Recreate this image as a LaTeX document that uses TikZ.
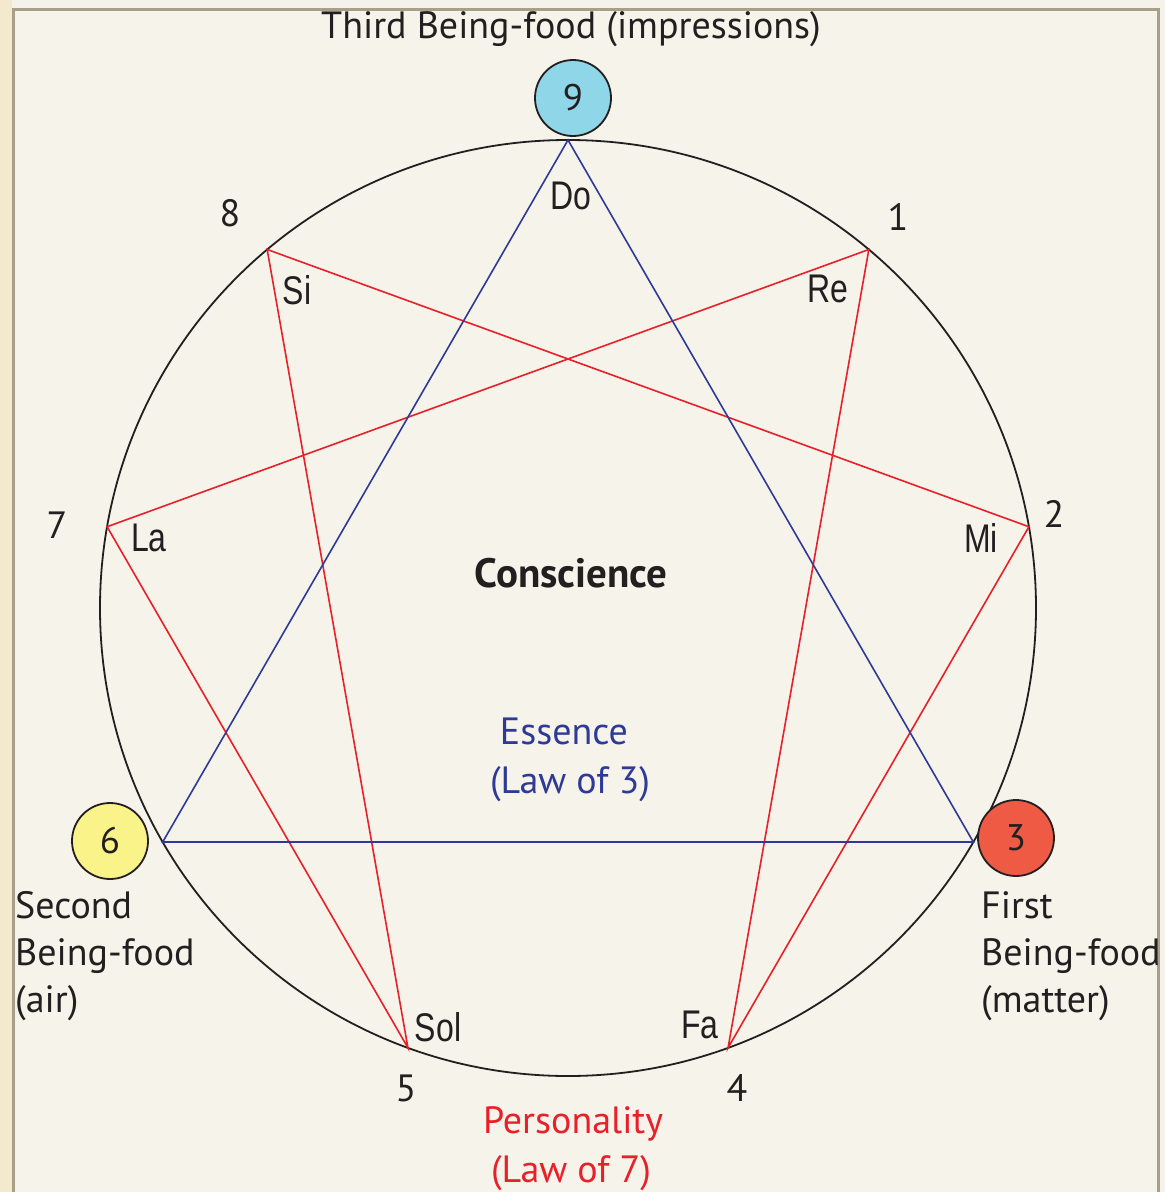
\documentclass[tikz,border=0pt]{standalone}
\usepackage{fontspec}
\usetikzlibrary{calc}
\setmainfont{PT Sans}
\newfontfamily\condfont[FakeStretch=0.80]{Liberation Sans}
\definecolor{pagebg}{HTML}{F4F2EA}
\definecolor{stripbg}{HTML}{F3E9CD}
\definecolor{panelbg}{HTML}{F5F3EA}
\definecolor{panelframe}{HTML}{A89F88}
\definecolor{essblue}{HTML}{2E3A96}
\definecolor{persred}{HTML}{E8202A}
\definecolor{cblue}{HTML}{8FD6E8}
\definecolor{cyellow}{HTML}{FAF38A}
\definecolor{cred}{HTML}{EF5A45}
\definecolor{ink}{HTML}{231F20}
\tikzset{
  numcirc/.style={circle, draw=ink, line width=1.8pt, minimum size=76pt, inner sep=0pt, font=\fontsize{37}{37}\selectfont, text=ink},
  numlabel/.style={font=\fontsize{38}{38}\selectfont, text=ink},
  notelabel/.style={font=\condfont\fontsize{40}{40}\selectfont, text=ink},
  bigtext/.style={font=\fontsize{38}{38}\selectfont},
  foodtext/.style={font=\fontsize{38}{47}\selectfont, text=ink, align=left, anchor=north west, inner sep=0pt},
  redline/.style={draw=persred, line width=1.6pt},
  blueline/.style={draw=essblue, line width=1.6pt},
}
\begin{document}
\begin{tikzpicture}[x=1pt,y=-1pt]
\useasboundingbox (0,0) rectangle (1165,1192);
\fill[pagebg] (0,0) rectangle (1165,1192);
\fill[stripbg] (0,0) rectangle (12,1192);
\filldraw[fill=panelbg, draw=panelframe, line width=3pt] (13.5,9.5) rectangle (1158,1200);
% circle
\coordinate (c) at (568,608);
\draw[ink, line width=1.8pt] (c) circle[radius=468];
\foreach \i/\a in {9/90,1/50,2/10,3/-30,4/-70,5/-110,6/-150,7/170,8/130}{
  \coordinate (p\i) at ($(c)+({468*cos(\a)},{-468*sin(\a)})$);
}
% red hexad
\draw[redline] (p1) -- (p4) -- (p2) -- (p8) -- (p5) -- (p7) -- cycle;
% blue triangle
\draw[blueline, line join=miter] (p9) -- (p3) -- (p6) -- cycle;
% number circles
\node[numcirc, fill=cblue] (n9) at (573,98) {9};
\node[numcirc, fill=cyellow] (n6) at (110,841) {6};
\node[numcirc, fill=cred] (n3) at (1016,838) {3};
% numbers
\node[numlabel] (l8) at (230,213) {8};
\node[numlabel] (l1) at (898,217) {1};
\node[numlabel] (l2) at (1054,514) {2};
\node[numlabel] (l7) at (57,525) {7};
\node[numlabel] (l5) at (406,1088) {5};
\node[numlabel] (l4) at (737,1088) {4};
% notes
\node[notelabel] (do) at (571,196) {Do};
\node[notelabel] (re) at (828,289) {Re};
\node[notelabel] (si) at (297,290) {Si};
\node[notelabel] (la) at (149,538) {La};
\node[notelabel] (mi) at (981,538) {Mi};
\node[notelabel] (sol) at (438,1027) {Sol};
\node[notelabel] (fa) at (700,1025) {Fa};
% titles
\node[bigtext, text=ink] (third) at (571,29) {Third Being-food (impressions)};
\node[font=\bfseries\fontsize{41}{41}\selectfont, text=ink] (consc) at (571,573) {Conscience};
\node[bigtext, text=essblue] (ess) at (564,731) {Essence};
\node[bigtext, text=essblue] (law3) at (570,784) {(Law of 3)};
\node[bigtext, text=persred] (pers) at (573,1124) {Personality};
\node[bigtext, text=persred] (law7) at (571,1173) {(Law of 7)};
\node[foodtext] (second) at (15,891) {Second\\Being-food\\(air)};
\node[foodtext] (first) at (981,891) {First\\Being-food\\(matter)};
\end{tikzpicture}
\end{document}
